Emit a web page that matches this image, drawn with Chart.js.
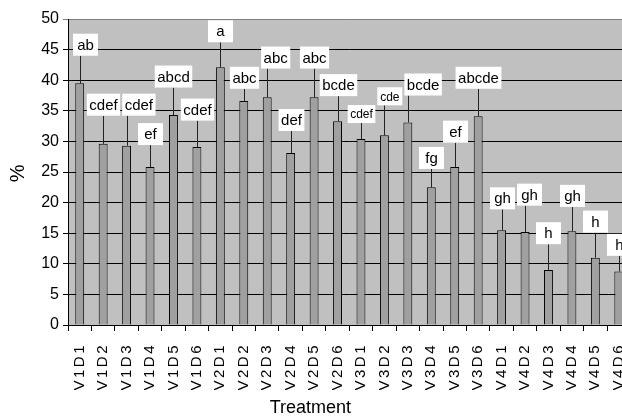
<!DOCTYPE html>
<html>
<head>
<meta charset="utf-8">
<script src="https://cdn.jsdelivr.net/npm/chart.js@4/dist/chart.umd.min.js"></script>
<style>
  html, body { margin: 0; padding: 0; background: #fff; overflow: hidden; }
  #wrap { width: 622px; height: 419px; overflow: hidden; position: relative; }
  canvas { display: block; }
</style>
</head>
<body>
<div id="wrap"><canvas id="c" width="649" height="419"></canvas></div>
<script>
const categories = ['V1D1','V1D2','V1D3','V1D4','V1D5','V1D6',
                    'V2D1','V2D2','V2D3','V2D4','V2D5','V2D6',
                    'V3D1','V3D2','V3D3','V3D4','V3D5','V3D6',
                    'V4D1','V4D2','V4D3','V4D4','V4D5','V4D6'];
const means = [39.5, 29.6, 29.3, 25.8, 34.3, 29.1,
               42.1, 36.6, 37.2, 28.1, 37.2, 33.3,
               30.4, 31.0, 33.1, 22.5, 25.8, 34.1,
               15.5, 15.2, 9.0, 15.3, 11.0, 8.75];
const errors = [4.5, 4.6, 4.9, 3.6, 4.5, 4.3,
                4.1, 2.0, 4.7, 3.6, 4.7, 4.1,
                2.6, 4.9, 4.4, 3.0, 4.0, 4.5,
                3.4, 4.3, 4.2, 4.0, 4.1, 2.55];
const letters = ['ab','cdef','cdef','ef','abcd','cdef',
                 'a','abc','abc','def','abc','bcde',
                 'cdef','cde','bcde','fg','ef','abcde',
                 'gh','gh','h','gh','h','h'];
const yMin = 0, yMax = 50, yStep = 5;
const smallLetterIdx = [12, 13];

const FONT = "'Liberation Sans', Arial, sans-serif";

const bgPlugin = {
  id: 'plotBg',
  beforeDraw(chart) {
    const {ctx, chartArea: a} = chart;
    ctx.save();
    ctx.fillStyle = '#c0c0c0';
    ctx.fillRect(a.left, a.top, a.right - a.left, a.bottom - a.top);
    ctx.restore();
    ctx.letterSpacing = '2.5px';
  },
  beforeDatasetsDraw(chart) {
    chart.ctx.letterSpacing = '0px';
  }
};

const errPlugin = {
  id: 'errLabels',
  afterDatasetsDraw(chart) {
    const {ctx, chartArea: a} = chart;
    const xs = chart.scales.x, ys = chart.scales.y;
    ctx.save();
    ctx.letterSpacing = '0px';
    let prev = null;
    means.forEach((m, i) => {
      const x = Math.round(xs.getPixelForValue(i)) + 0.5;
      const y0 = ys.getPixelForValue(m);
      const y1 = ys.getPixelForValue(m + errors[i]);
      ctx.strokeStyle = '#222';
      ctx.lineWidth = 1;
      ctx.beginPath();
      ctx.moveTo(x, y0);
      ctx.lineTo(x, y1);
      ctx.stroke();
      const small = smallLetterIdx.includes(i);
      const fs = small ? 12 : 15;
      const bh = small ? 18 : 22;
      ctx.font = fs + 'px ' + FONT;
      const tw = ctx.measureText(letters[i]).width;
      const bw = Math.max(tw + 5, 25);
      let bx = x - bw / 2;
      if (bx < a.left + 5) bx = a.left + 5;
      const by = y1 - bh;
      if (prev && bx < prev.r + 1 && by < prev.b && by + bh > prev.t) {
        bx = prev.r + 2;
      }
      ctx.fillStyle = '#ffffff';
      ctx.fillRect(bx, by, bw, bh);
      ctx.fillStyle = '#000';
      ctx.textAlign = 'center';
      ctx.textBaseline = 'middle';
      ctx.fillText(letters[i], bx + bw / 2, by + bh / 2 + 1);
      prev = { r: bx + bw, t: by, b: by + bh };
    });
    ctx.font = '18px ' + FONT;
    ctx.fillStyle = '#000';
    ctx.textAlign = 'center';
    ctx.textBaseline = 'middle';
    ctx.fillText('Treatment', a.left + (a.right - a.left) * 0.431, 408);
    ctx.restore();
  }
};

new Chart(document.getElementById('c'), {
  type: 'bar',
  data: {
    labels: categories,
    datasets: [{
      data: means,
      backgroundColor: '#a0a0a0',
      borderColor: '#000',
      borderWidth: 1,
      barPercentage: 0.38,
      categoryPercentage: 1.0
    }]
  },
  options: {
    responsive: false,
    animation: false,
    devicePixelRatio: 1,
    layout: { padding: { top: 19, right: 10, bottom: 29, left: 0 } },
    plugins: { legend: { display: false }, tooltip: { enabled: false } },
    scales: {
      x: {
        grid: { display: true, drawOnChartArea: false, drawTicks: true, tickLength: 6, color: '#000', offset: true },
        border: { color: '#000', width: 1 },
        ticks: { minRotation: 90, maxRotation: 90, autoSkip: false, padding: 12,
                 color: '#000', font: { family: FONT, size: 15 } },
        afterFit(s) { s.height = 65; }
      },
      y: {
        min: yMin, max: yMax,
        ticks: { stepSize: yStep, color: '#000', padding: 4, z: 1, font: { family: FONT, size: 16 } },
        grid: {
          color: (c) => (c.tick && c.tick.value === yMax) ? '#808080' : '#000',
          tickLength: 5, lineWidth: 1
        },
        border: { color: '#000', width: 1 },
        title: { display: true, text: '%', color: '#000', font: { family: FONT, size: 20 }, padding: { top: 6, bottom: 0 } },
        afterFit(s) { s.width = 68; }
      }
    }
  },
  plugins: [bgPlugin, errPlugin]
});
</script>
</body>
</html>
